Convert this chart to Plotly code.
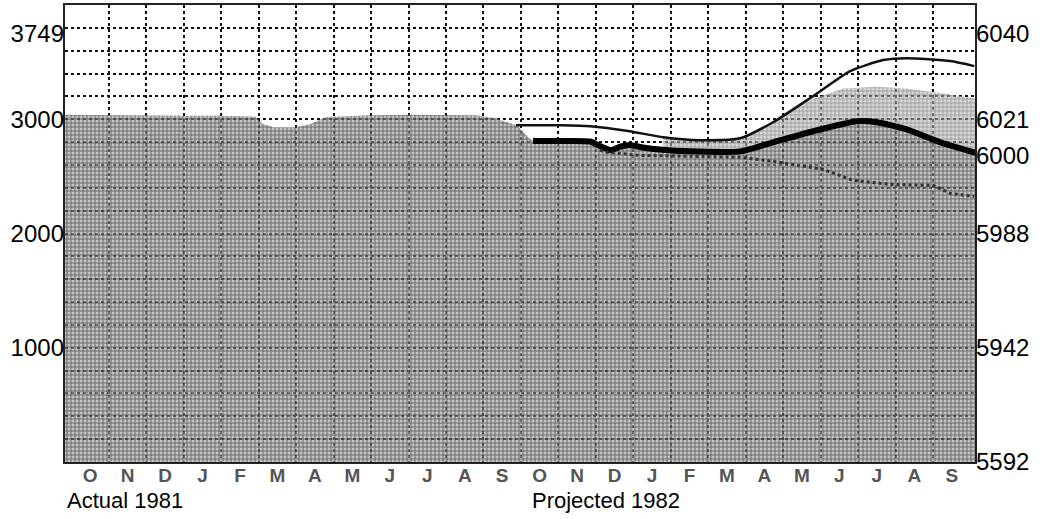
import plotly.graph_objects as go

# ---------------- data (storage, thousand acre-feet; x = months from 1 Oct 1981) -------------
months = ["O", "N", "D", "J", "F", "M", "A", "M", "J", "J", "A", "S"] * 2
month_pos = [k + 0.5 for k in range(24)]

# Actual 1981 storage (top of dark shaded area)
actual_x = [-0.2, 1, 2, 3, 4, 4.9, 5.1, 5.4, 6.0, 6.4, 6.8, 8, 9, 10, 10.8, 11.3, 11.9, 12.2]
actual_y = [3040, 3035, 3035, 3030, 3030, 3025, 2960, 2930, 2930, 2960, 3020, 3035, 3040,
            3040, 3035, 3010, 2945, 2840]

# Projected 1982 - most probable (thick line)
prob_x = [12.32, 13.04, 13.85, 14.11, 14.4, 14.65, 14.9, 15.3, 15.7, 16.5, 17.85, 18.73,
          19.8, 20.97, 21.5, 22.3, 23.2, 24.15]
prob_y = [2810, 2810, 2805, 2765, 2730, 2760, 2775, 2750, 2735, 2719, 2719, 2798,
          2895, 2982, 2974, 2912, 2798, 2705]

# Projected 1982 - maximum probable (thin line)
max_x = [11.87, 13.05, 13.85, 14.9, 15.8, 16.78, 17.85, 18.73, 19.8, 20.79, 21.67, 22.3,
         23.46, 24.1]
max_y = [2947, 2947, 2939, 2895, 2842, 2816, 2833, 2974, 3202, 3421, 3518, 3535,
         3509, 3465]

# Projected 1982 - minimum probable (dotted line)
min_x = [14.11, 14.3, 15.18, 16.5, 17.85, 18.73, 20.07, 20.87, 21.86, 23.0, 23.46, 24.1]
min_y = [2728, 2711, 2684, 2675, 2667, 2632, 2561, 2465, 2430, 2421, 2351, 2325]

# light shaded band (upper / lower edges)
band_x = [15.8, 16.8, 17.85, 18.73, 19.8, 20.6, 21.5, 22.3, 23.2, 24.15]
band_top = [2842, 2816, 2833, 2974, 3180, 3270, 3285, 3270, 3230, 3180]
band_bot = [2735, 2719, 2719, 2798, 2895, 2975, 2974, 2912, 2798, 2705]

# axis labels
left_vals = [1000, 2000, 3000, 3749]
left_text = ["1000", "2000", "3000", "3749"]
elev_vals = [0, 1000, 2000, 2680, 3000, 3749]
elev_text = ["5592", "5942", "5988", "6000", "6021", "6040"]

Y_RANGE = [0, 4000]
X_RANGE = [-0.17, 24.12]
FONT = "Liberation Sans, Arial, sans-serif"

fig = go.Figure()

# dark shaded storage area
fig.add_trace(go.Scatter(
    x=actual_x + prob_x, y=actual_y + prob_y, mode="lines", line=dict(width=0),
    fill="tozeroy", fillcolor="rgba(160,160,160,0.65)",
    fillpattern=dict(shape="+", size=4, solidity=0.35, fgcolor="rgba(0,0,0,0.55)",
                     bgcolor="rgba(160,160,160,0.65)", fillmode="replace"),
    hoverinfo="skip", showlegend=False))

# light shaded band
fig.add_trace(go.Scatter(
    x=band_x + band_x[::-1], y=band_top + band_bot[::-1], mode="lines", line=dict(width=0),
    fill="toself", fillcolor="rgba(185,185,185,0.6)",
    fillpattern=dict(shape="+", size=4, solidity=0.25, fgcolor="rgba(0,0,0,0.4)",
                     bgcolor="rgba(185,185,185,0.6)", fillmode="replace"),
    hoverinfo="skip", showlegend=False))

fig.add_trace(go.Scatter(x=max_x, y=max_y, mode="lines",
                         line=dict(color="#111", width=2.5, shape="spline", smoothing=0.6),
                         showlegend=False))
fig.add_trace(go.Scatter(x=prob_x, y=prob_y, mode="lines",
                         line=dict(color="#000", width=6, shape="spline", smoothing=0.6),
                         showlegend=False))
fig.add_trace(go.Scatter(x=min_x, y=min_y, mode="lines",
                         line=dict(color="#333", width=3, dash="dot"),
                         showlegend=False))

# invisible anchors for the overlay label axes
for xa, ya in (("x2", "y"), ("x", "y2"), ("x", "y3")):
    fig.add_trace(go.Scatter(x=[1], y=[1000], xaxis=xa, yaxis=ya, mode="markers",
                             marker=dict(opacity=0), hoverinfo="skip", showlegend=False))

grid = dict(showgrid=True, gridcolor="#111", gridwidth=2, griddash="dot")

fig.update_layout(
    width=1040, height=519,
    margin=dict(l=65, r=65, t=5, b=57),
    paper_bgcolor="white", plot_bgcolor="white",
    font=dict(family=FONT, color="#000"),
    xaxis=dict(range=X_RANGE, tickvals=list(range(1, 24)), showticklabels=False, ticks="",
               zeroline=False, showline=True, mirror=True, linecolor="#222", linewidth=2,
               automargin=False, **grid),
    xaxis2=dict(range=X_RANGE, overlaying="x", side="bottom", tickvals=month_pos,
                ticktext=months, showgrid=False, zeroline=False, ticks="", automargin=False,
                tickfont=dict(family=FONT, size=19, color="#555", weight="bold")),
    yaxis=dict(range=Y_RANGE, dtick=200, tick0=0, showticklabels=False, ticks="",
               zeroline=False, showline=True, mirror=True, linecolor="#222", linewidth=2,
               automargin=False, **grid),
    yaxis2=dict(range=Y_RANGE, overlaying="y", side="left", tickvals=left_vals,
                ticktext=left_text, showgrid=False, zeroline=False, ticks="",
                automargin=False, tickfont=dict(family=FONT, size=24, color="#000")),
    yaxis3=dict(range=Y_RANGE, overlaying="y", side="right", tickvals=elev_vals,
                ticktext=elev_text, showgrid=False, zeroline=False, ticks="",
                automargin=False, tickfont=dict(family=FONT, size=24, color="#000")),
    annotations=[
        dict(text="Actual 1981", xref="paper", yref="paper", x=0.0, y=-0.085,
             xanchor="left", yanchor="middle", showarrow=False,
             font=dict(family=FONT, size=22, color="#000")),
        dict(text="Projected 1982", xref="paper", yref="paper", x=0.511, y=-0.085,
             xanchor="left", yanchor="middle", showarrow=False,
             font=dict(family=FONT, size=22, color="#000")),
    ],
)

fig.write_html("out.html", config={"displayModeBar": False},
               post_script="document.body.style.margin='0px';document.body.style.padding='0px';")
